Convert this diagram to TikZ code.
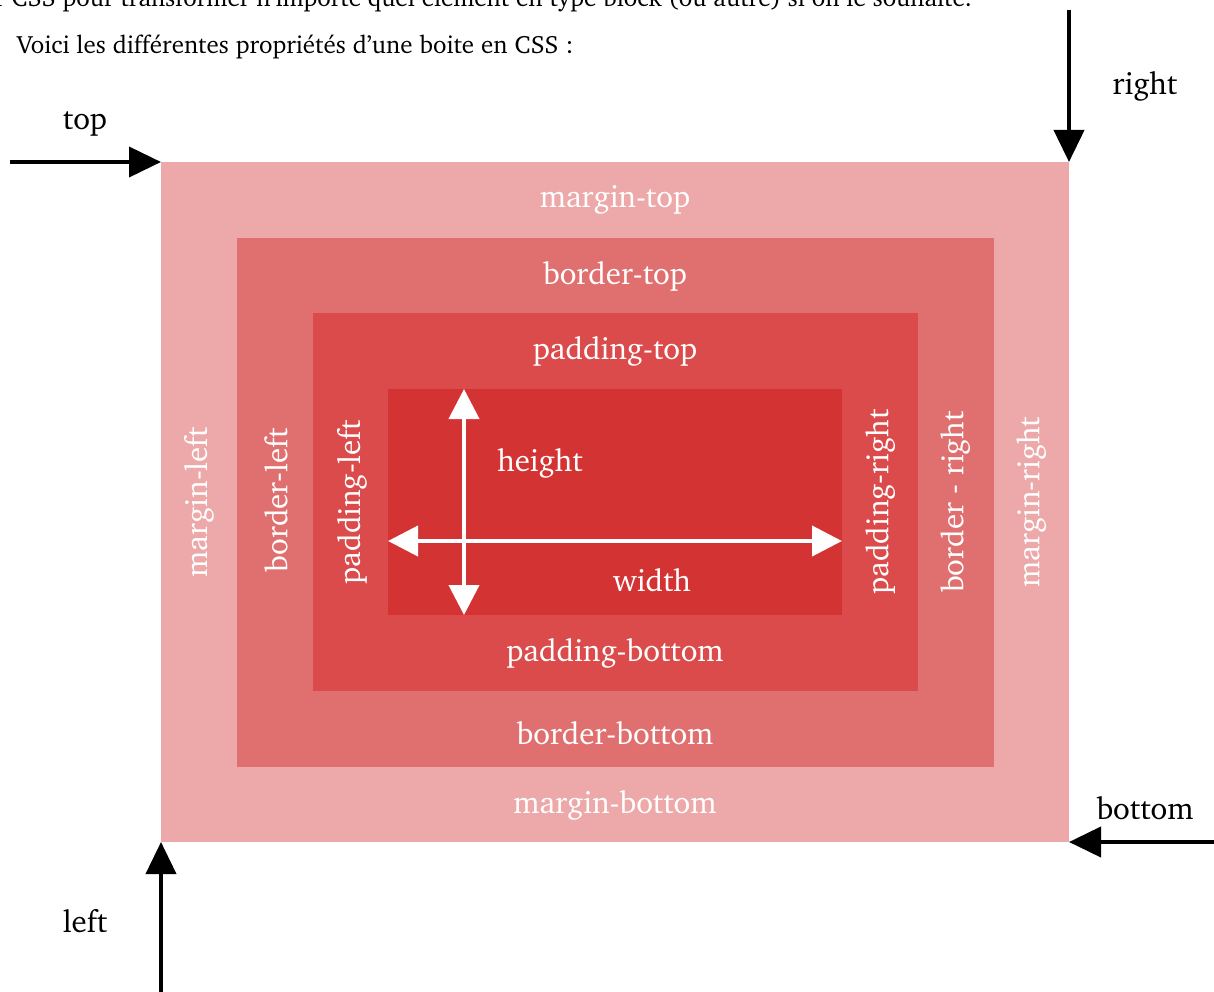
\documentclass[tikz,border=0pt]{standalone}
\usepackage[T1]{fontenc}
\usepackage{charter}
\usetikzlibrary{arrows.meta}
\definecolor{marginpink}{HTML}{EDA9A9}
\definecolor{borderred}{HTML}{E07070}
\definecolor{paddingred}{HTML}{DB4B4B}
\definecolor{contentred}{HTML}{D43333}

\tikzset{
  layer/.style={inner sep=0pt, outer sep=0pt, draw=none},
  inlabel/.style={text=white, inner sep=0pt, font=\fontsize{31}{34}\selectfont},
  sidelabel/.style={inlabel, rotate=90},
  outlabel/.style={text=black, inner sep=0pt, font=\fontsize{31}{34}\selectfont},
  pointer/.style={-{Triangle[length=32pt,width=30pt]}, line width=4pt, black},
  measure/.style={{Triangle[length=30pt,width=30pt]}-{Triangle[length=30pt,width=30pt]}, line width=4pt, white},
}

\begin{document}
\begin{tikzpicture}[x=1pt, y=-1pt]
\useasboundingbox (0,0) rectangle (1214,992);
\clip (0,0) rectangle (1214,992);

% the text above
\node[anchor=base east, inner sep=0pt, font=\fontsize{25}{28}\selectfont] (intro) at (972,7) {r CSS pour transformer n'importe quel \'el\'ement en type block (ou autre) si on le souhaite.};
\node[anchor=base west, inner sep=0pt, font=\fontsize{25}{28}\selectfont] (voici) at (17,54) {Voici les diff\'erentes propri\'et\'es d'une boite en CSS :};

% the four boxes
\node[layer, fill=marginpink, minimum width=908pt, minimum height=680pt] (margin) at (615,502) {};
\node[layer, fill=borderred, minimum width=757pt, minimum height=529pt] (border) at (615.5,502.5) {};
\node[layer, fill=paddingred, minimum width=605pt, minimum height=378pt] (padding) at (615.5,502) {};
\node[layer, fill=contentred, minimum width=454pt, minimum height=226pt] (content) at (615,502) {};

% labels in the boxes
\node[inlabel] (mtop) at (615,200) {margin-top};
\node[inlabel] (btop) at (615,276) {border-top};
\node[inlabel] (ptop) at (615,351) {padding-top};
\node[inlabel] (pbottom) at (615,653) {padding-bottom};
\node[inlabel] (bbottom) at (615,733) {border-bottom};
\node[inlabel] (mbottom) at (615,805) {margin-bottom};
\node[sidelabel] (mleft) at (199,502) {margin-left};
\node[sidelabel] (bleft) at (276,500) {border-left};
\node[sidelabel] (pleft) at (352,502) {padding-left};
\node[sidelabel] (pright) at (880,502) {padding-right};
\node[sidelabel] (bright) at (955,502) {border - right};
\node[sidelabel] (mright) at (1031,502) {margin-right};

% height and width
\coordinate (hup) at (464,389);
\coordinate (hdown) at (464,615);
\coordinate (wleft) at (388,541);
\coordinate (wright) at (842,541);
\draw[measure] (wleft) -- (wright);
\draw[measure] (hup) -- (hdown);
\node[inlabel] (height) at (540,463) {height};
\node[inlabel] (width) at (652,580) {width};

% outer arrows
\coordinate (topstart) at (10,162);
\coordinate (rightstart) at (1069,10);
\coordinate (bottomstart) at (1214,842);
\coordinate (leftstart) at (161,992);
\draw[pointer] (topstart) -- (margin.north west);
\draw[pointer] (rightstart) -- (margin.north east);
\draw[pointer] (bottomstart) -- (margin.south east);
\draw[pointer] (leftstart) -- (margin.south west);
\node[outlabel] (toplbl) at (85,124) {top};
\node[outlabel] (rightlbl) at (1145,86) {right};
\node[outlabel] (bottomlbl) at (1145,808) {bottom};
\node[outlabel] (leftlbl) at (85,921) {left};
\end{tikzpicture}
\end{document}
